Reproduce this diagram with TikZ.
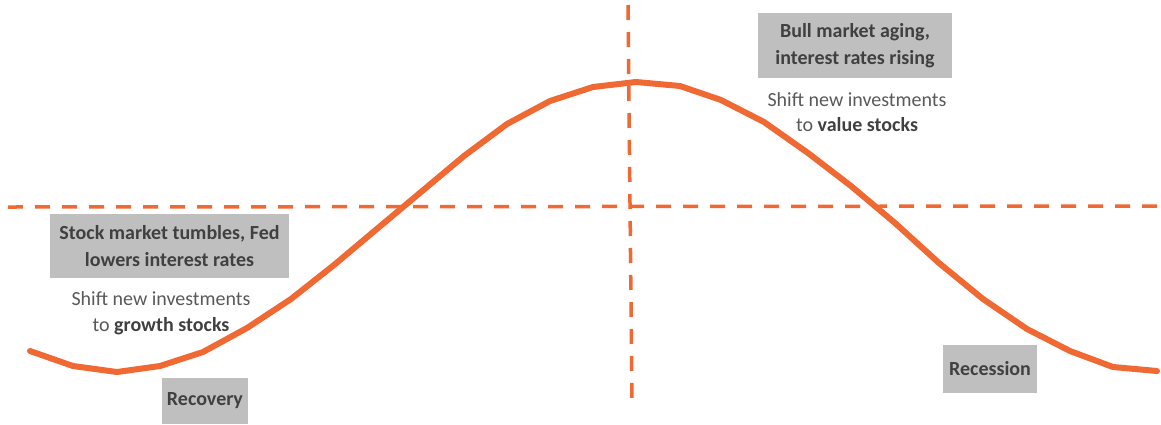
\documentclass[tikz,border=0pt]{standalone}
\usepackage{fontspec}
\setmainfont{Carlito}
\definecolor{curveorange}{RGB}{240,104,50}
\definecolor{boxgray}{RGB}{191,191,191}
\definecolor{boldtext}{RGB}{64,64,64}
\definecolor{plaintext}{RGB}{89,89,89}
\begin{document}
\begin{tikzpicture}[x=1pt,y=-1pt,
  axisline/.style={draw=curveorange,line width=3.5pt,dash pattern=on 15pt off 12pt},
  cyclecurve/.style={draw=curveorange,line width=6pt,line cap=round,line join=round},
  phasebox/.style={fill=boxgray,text=boldtext,font=\fontsize{20}{27}\selectfont\bfseries,align=center,inner sep=0pt},
  advice/.style={text=plaintext,font=\fontsize{20}{25.5}\selectfont,align=center,inner sep=0pt}]
\useasboundingbox (0,0) rectangle (1161,424);
% dashed axes
\coordinate (hl) at (8,207);
\coordinate (hr) at (1160,206);
\coordinate (vt) at (628,5);
\coordinate (vb) at (632,402);
\draw[axisline] (hl) -- (hr);
\draw[axisline] (vt) -- (vb);
% cycle curve
\draw[cyclecurve] (30,351) -- (73,366) -- (117,372) -- (160,366) -- (203,352) -- (247,328)
  -- (291,299) -- (334,265) -- (378,228) -- (421,192) -- (464,156) -- (507,124)
  -- (550,101) -- (593,87) -- (636,82) -- (680,86) -- (721,100) -- (764,122)
  -- (808,153) -- (851,186) -- (895,223) -- (939,263) -- (983,299) -- (1027,329)
  -- (1070,351) -- (1113,367) -- (1157,371);
% boxes
\node[phasebox,minimum width=194pt,minimum height=65pt] (bull) at (855,45.5)
  {Bull market aging,\\interest rates rising};
\node[advice] (valueadv) at (857,112) {Shift new investments\\to \textbf{\color{boldtext}value stocks}};
\node[phasebox,minimum width=239pt,minimum height=64pt] (tumble) at (169.5,246)
  {Stock market tumbles, Fed\\lowers interest rates};
\node[advice] (growthadv) at (161,313) {Shift new investments\\to \textbf{\color{boldtext}growth stocks}};
\node[phasebox,minimum width=86pt,minimum height=46pt] (recovery) at (205,401) {Recovery};
\node[phasebox,minimum width=94pt,minimum height=48pt] (recession) at (990,369) {Recession};
\end{tikzpicture}
\end{document}
